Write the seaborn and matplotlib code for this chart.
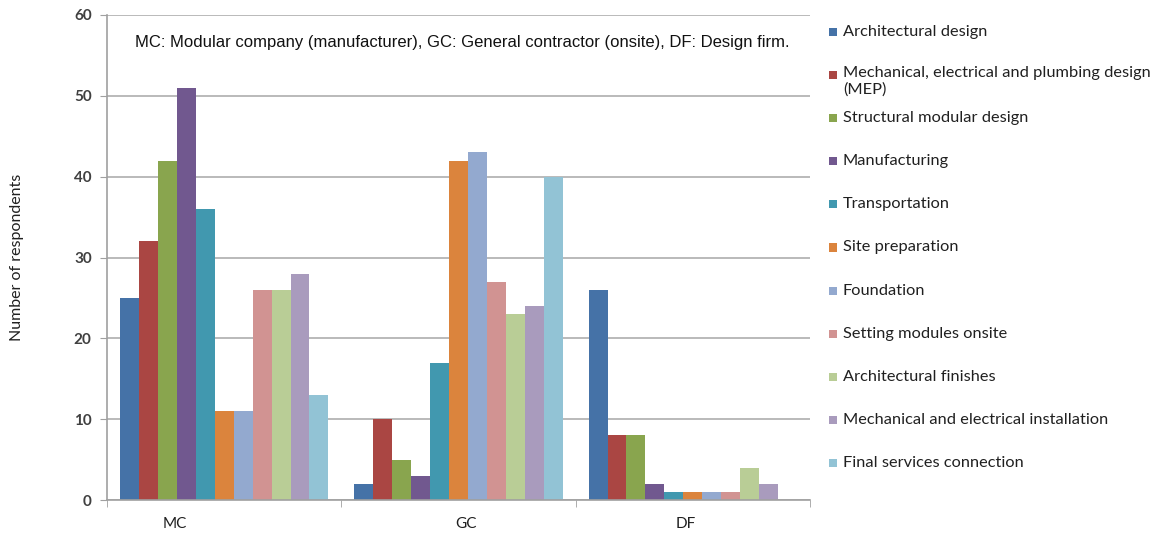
import matplotlib
matplotlib.use("Agg")
import matplotlib.pyplot as plt
import pandas as pd
import seaborn as sns
from matplotlib.patches import Rectangle

# Daten
gruppen = ["MC", "GC", "DF"]
kategorien = [
    "Architectural design",
    "Mechanical, electrical and plumbing design\n(MEP)",
    "Structural modular design",
    "Manufacturing",
    "Transportation",
    "Site preparation",
    "Foundation",
    "Setting modules onsite",
    "Architectural finishes",
    "Mechanical and electrical installation",
    "Final services connection",
]
werte_mc = [25, 32, 42, 51, 36, 11, 11, 26, 26, 28, 13]
werte_gc = [2, 10, 5, 3, 17, 42, 43, 27, 23, 24, 40]
werte_df = [26, 8, 8, 2, 1, 1, 1, 1, 4, 2, 0]
farben = [
    "#4572A7", "#AA4643", "#89A54E", "#71588F", "#4198AF", "#DB843D",
    "#93A9CF", "#D19392", "#B9CD96", "#A99BBD", "#92C3D5",
]
y_ticks = [0, 10, 20, 30, 40, 50, 60]
hinweis = "MC: Modular company (manufacturer), GC: General contractor (onsite), DF: Design firm."

rows = []
for g, werte in zip(gruppen, [werte_mc, werte_gc, werte_df]):
    for k, v in zip(kategorien, werte):
        rows.append({"Gruppe": g, "Kategorie": k, "Wert": v})
df = pd.DataFrame(rows)

sns.set_style("white")
plt.rcParams["font.family"] = ["Lato", "DejaVu Sans"]

fig = plt.figure(figsize=(11.67, 5.36), dpi=100)
ax = fig.add_axes([107 / 1167, 36 / 536, 703 / 1167, 485 / 536])

sns.barplot(
    data=df, x="Gruppe", y="Wert", hue="Kategorie", order=gruppen,
    hue_order=kategorien, palette=farben, width=0.89, gap=0,
    saturation=1, legend=False, ax=ax, edgecolor="none", linewidth=0,
)

ax.set_ylim(0, 60)
ax.set_xlim(-0.5, 2.5)
ax.set_yticks(y_ticks)
ax.set_yticklabels([str(t) for t in y_ticks], fontweight="bold", color="#404040", fontsize=11)
ax.yaxis.grid(True, color="#B4B4B4", linewidth=1.3)
ax.set_axisbelow(True)
ax.tick_params(axis="y", left=True, length=5, color="#A0A0A0", pad=6)

# Gruppenbeschriftungen (MC etwas nach links versetzt wie im Original)
ax.set_xticks([-0.21, 1.03, 1.97])
ax.set_xticklabels(gruppen, fontsize=11, color="#202020")
ax.tick_params(axis="x", which="major", length=0, pad=12)
ax.set_xticks([-0.5, 0.5, 1.5, 2.5], minor=True)
ax.tick_params(axis="x", which="minor", length=5, color="#A0A0A0", bottom=True)

for s in ["top", "right"]:
    ax.spines[s].set_visible(False)
for s in ["left", "bottom"]:
    ax.spines[s].set_color("#A0A0A0")
    ax.spines[s].set_linewidth(1.2)

ax.set_xlabel("")
ax.set_ylabel("Number of respondents", fontsize=11.5, color="#202020", labelpad=36)

ax.text(0.04, (500 - 42) / 485, hinweis, transform=ax.transAxes, va="center",
        ha="left", fontsize=12, family="Liberation Sans", color="#111111")

# Legende rechts, gleichmäßige Abstände
for i, (k, c) in enumerate(zip(kategorien, farben)):
    y_px = 32 + i * 43.1
    fig.patches.append(Rectangle((829 / 1167, 1 - (y_px + 4) / 536), 8 / 1167, 8 / 536,
                                 transform=fig.transFigure, facecolor=c, edgecolor="none"))
    if "\n" in k:
        fig.text(843 / 1167, 1 - (y_px - 9) / 536, k, ha="left", va="top",
                 fontsize=11.8, color="#202020", linespacing=1.2)
    else:
        fig.text(843 / 1167, 1 - y_px / 536, k, ha="left", va="center",
                 fontsize=11.8, color="#202020")

fig.savefig("out.png", dpi=100)
